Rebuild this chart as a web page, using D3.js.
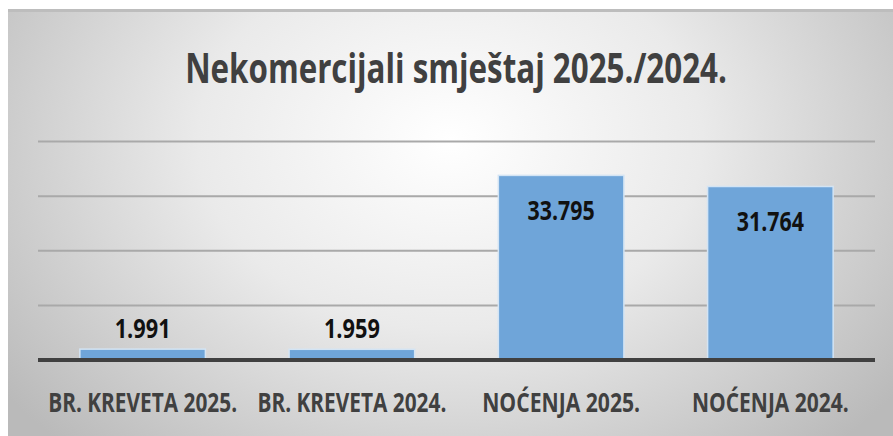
<!DOCTYPE html>
<html>
<head>
<meta charset="utf-8">
<script src="https://cdn.jsdelivr.net/npm/d3@7"></script>
<style>
  html, body { margin:0; padding:0; background:#fff; }
  svg { display:block; }
  text { font-family: "Open Sans", "Noto Sans", sans-serif; }
</style>
</head>
<body>
<svg id="chart" width="893" height="436"></svg>
<script>
const title = 'Nekomercijali smještaj 2025./2024.';
const categories = ['BR. KREVETA 2025.', 'BR. KREVETA 2024.', 'NOĆENJA 2025.', 'NOĆENJA 2024.'];
const values = [1991, 1959, 33795, 31764];
const valueLabels = ['1.991', '1.959', '33.795', '31.764'];
const yTicks = [0, 10000, 20000, 30000, 40000];

const svg = d3.select('#chart');
const W = 893, H = 436;

// squeeze a text horizontally (the source picture is condensed)
function squeeze(sel, widthOf) {
  sel.each(function(d, i) {
    const t = d3.select(this);
    const px = +t.attr('x'), py = +t.attr('y');
    const w = this.getComputedTextLength();
    const sx = widthOf(d, i) / w;
    t.attr('x', 0).attr('y', 0)
     .attr('transform', `translate(${px},${py}) scale(${sx},1)`);
  });
}

// background panel with radial gradient
const defs = svg.append('defs');
const grad = defs.append('radialGradient').attr('id','bg')
  .attr('gradientUnits','userSpaceOnUse')
  .attr('cx', 450).attr('cy', 140).attr('r', 560)
  .attr('gradientTransform','translate(450,140) scale(1,0.75) translate(-450,-140)');
grad.append('stop').attr('offset','0%').attr('stop-color','#ffffff');
grad.append('stop').attr('offset','45%').attr('stop-color','#eaeaea');
grad.append('stop').attr('offset','100%').attr('stop-color','#bababa');

svg.append('rect').attr('x',8).attr('y',9).attr('width',W-8).attr('height',H-9).attr('fill','url(#bg)');
svg.append('rect').attr('x',8).attr('y',9).attr('width',W-8).attr('height',3).attr('fill','#bdbdbd');

const margin = { left:38, right:18, top:141.5, bottom:76 };
const x = d3.scaleBand().domain(categories).range([margin.left, W - margin.right])
  .paddingInner(0.4).paddingOuter(0.2);
const y = d3.scaleLinear().domain([0, 40000]).range([H - margin.bottom, margin.top]);

// gridlines
svg.append('g').selectAll('line').data(yTicks.slice(1)).join('line')
  .attr('x1', margin.left).attr('x2', W - margin.right)
  .attr('y1', d => y(d)).attr('y2', d => y(d))
  .attr('stroke', '#a9a9a9').attr('stroke-width', 2);

// bars
svg.append('g').selectAll('rect').data(values).join('rect')
  .attr('x', (d,i) => x(categories[i]))
  .attr('y', d => y(d))
  .attr('width', x.bandwidth())
  .attr('height', d => y(0) - y(d))
  .attr('fill', '#6fa5d9')
  .attr('stroke', '#d3e4f4')
  .attr('stroke-width', 1.5);

// axis baseline
svg.append('line')
  .attr('x1', margin.left).attr('x2', W - margin.right)
  .attr('y1', y(0)).attr('y2', y(0))
  .attr('stroke', '#404040').attr('stroke-width', 4);

// value labels
svg.append('g').selectAll('text').data(values).join('text')
  .attr('x', (d,i) => x(categories[i]) + x.bandwidth()/2)
  .attr('y', d => (y(0) - y(d) > 60) ? y(d) + 44.5 : y(d) - 11.5)
  .attr('text-anchor','middle')
  .attr('font-size', 27).attr('font-weight', 700)
  .attr('fill', '#111')
  .text((d,i) => valueLabels[i])
  .call(squeeze, (d,i) => valueLabels[i].length * 11.2);

// category labels
const catWidths = [189, 189, 158, 157];
svg.append('g').selectAll('text').data(categories).join('text')
  .attr('x', d => x(d) + x.bandwidth()/2)
  .attr('y', 412)
  .attr('text-anchor','middle')
  .attr('font-size', 26).attr('font-weight', 700)
  .attr('fill', '#404040')
  .text(d => d)
  .call(squeeze, (d,i) => catWidths[i]);

// title
svg.append('text')
  .attr('x', 456).attr('y', 83)
  .attr('text-anchor','middle')
  .attr('font-size', 42).attr('font-weight', 700)
  .attr('fill', '#404040')
  .text(title)
  .call(squeeze, () => 542);
</script>
</body>
</html>
